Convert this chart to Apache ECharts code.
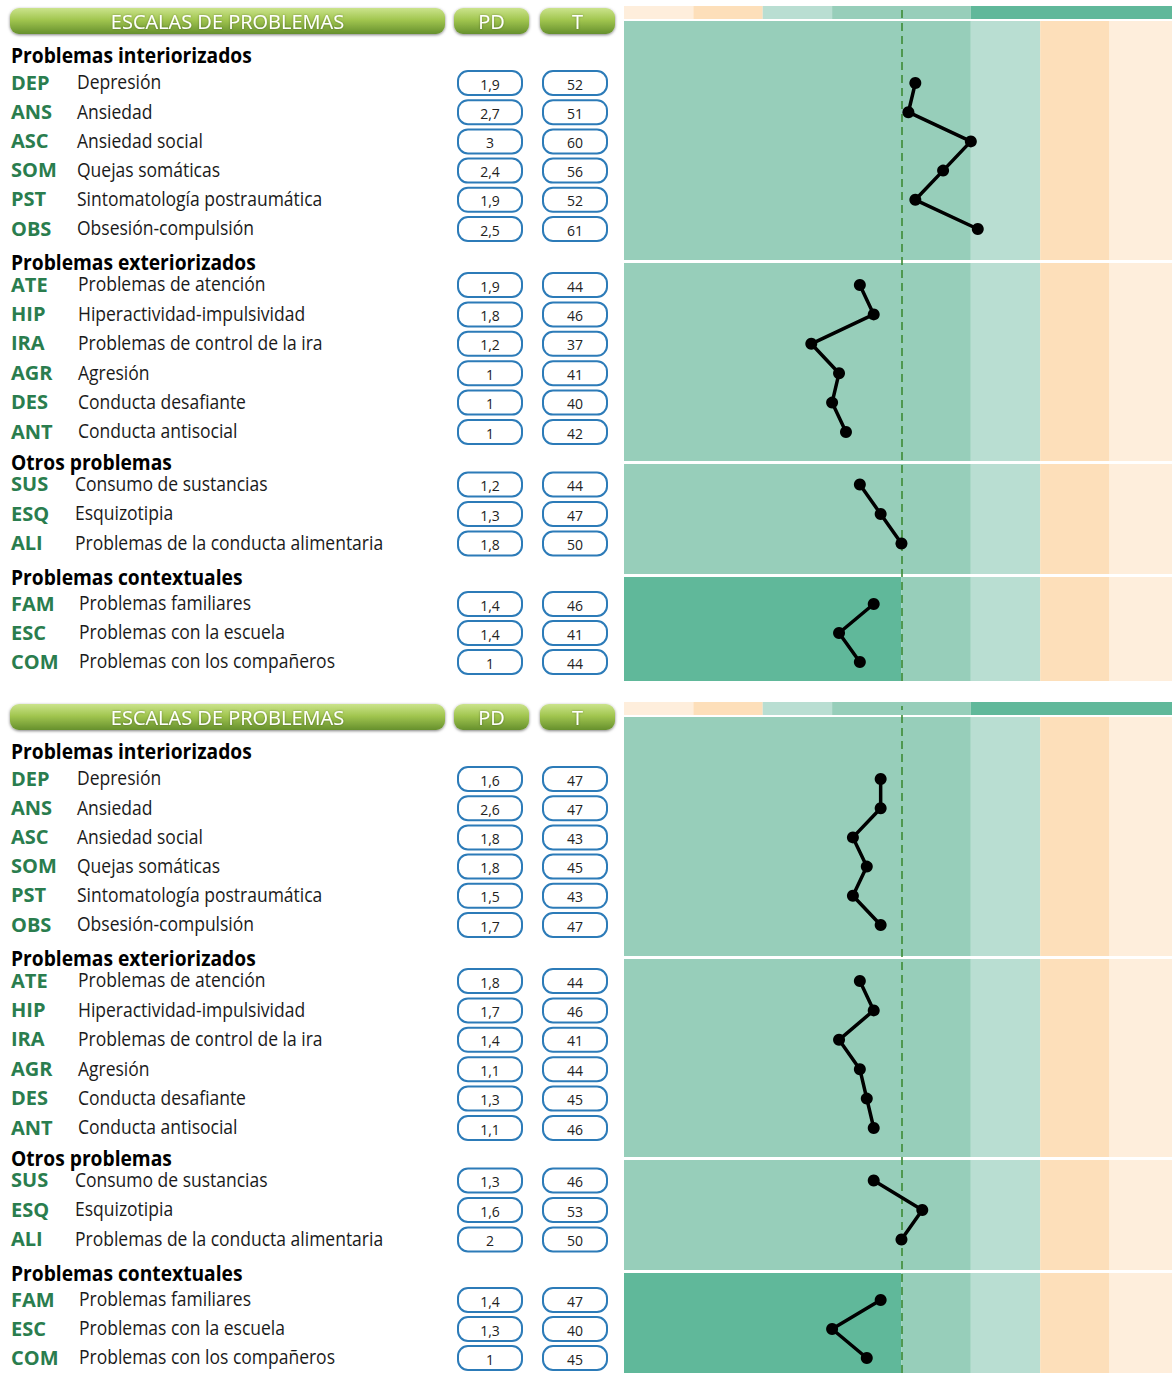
<!DOCTYPE html>
<html>
<head>
<meta charset="utf-8">
<script src="https://cdn.jsdelivr.net/npm/echarts@6/dist/echarts.min.js"></script>
<style>
  html, body { margin: 0; padding: 0; background: #fff; }
  #main { width: 1172px; height: 1373px; }
</style>
</head>
<body>
<div id="main"></div>
<script>
  // datos de las escalas
  var sectionNames = ['Problemas interiorizados', 'Problemas exteriorizados', 'Otros problemas', 'Problemas contextuales'];
  var codes = [
    ['DEP', 'ANS', 'ASC', 'SOM', 'PST', 'OBS'],
    ['ATE', 'HIP', 'IRA', 'AGR', 'DES', 'ANT'],
    ['SUS', 'ESQ', 'ALI'],
    ['FAM', 'ESC', 'COM']
  ];
  var names = [
    ['Depresión', 'Ansiedad', 'Ansiedad social', 'Quejas somáticas', 'Sintomatología postraumática', 'Obsesión-compulsión'],
    ['Problemas de atención', 'Hiperactividad-impulsividad', 'Problemas de control de la ira', 'Agresión', 'Conducta desafiante', 'Conducta antisocial'],
    ['Consumo de sustancias', 'Esquizotipia', 'Problemas de la conducta alimentaria'],
    ['Problemas familiares', 'Problemas con la escuela', 'Problemas con los compañeros']
  ];
  // perfil 1
  var pd1 = [[1.9, 2.7, 3, 2.4, 1.9, 2.5], [1.9, 1.8, 1.2, 1, 1, 1], [1.2, 1.3, 1.8], [1.4, 1.4, 1]];
  var t1 = [[52, 51, 60, 56, 52, 61], [44, 46, 37, 41, 40, 42], [44, 47, 50], [46, 41, 44]];
  // perfil 2
  var pd2 = [[1.6, 2.6, 1.8, 1.8, 1.5, 1.7], [1.8, 1.7, 1.4, 1.1, 1.3, 1.1], [1.3, 1.6, 2], [1.4, 1.3, 1]];
  var t2 = [[47, 47, 43, 45, 43, 47], [44, 46, 41, 44, 45, 46], [46, 53, 50], [47, 40, 45]];
  // cortes de T para las bandas
  var stripEdges = [10, 20, 30, 40, 60, 89];
  var mainEdges = [10, 60, 70, 80, 89];
  var ctxEdges = [10, 50, 60, 70, 80, 89];
  var meanT = 50;

  var stripColors = ['#FEEEDC', '#FDDFBA', '#B9DED2', '#97CEBA', '#60B89A'];
  var mainColors = ['#97CEBA', '#B9DED2', '#FDDFBA', '#FEEEDC'];
  var ctxColors = ['#60B89A', '#97CEBA', '#B9DED2', '#FDDFBA', '#FEEEDC'];

  var FONT = "'Open Sans', sans-serif";
  var panelOffsets = [0, 696];
  var secBg = [[21, 260], [263, 461], [464, 574], [577, 681]];
  var rowFirst = [83, 285, 484.5, 604];
  var rowStep = [29.2, 29.4, 29.5, 29];
  var headerY = [55, 262, 462, 577];
  var descX = [77, 78, 75, 79];

  var grids = [], xAxes = [], yAxes = [], series = [], graphics = [];

  function addGrid(top, height, yAxis) {
    var i = grids.length;
    grids.push({left: 624, right: 0, top: top, height: height});
    xAxes.push({type: 'value', gridIndex: i, min: 10, max: 89, show: false});
    yAxes.push(Object.assign({gridIndex: i, show: false}, yAxis));
    return i;
  }
  function bands(gi, edges, colors) {
    series.push({
      type: 'line', xAxisIndex: gi, yAxisIndex: gi, data: [], z: 1, silent: true,
      markArea: {
        silent: true,
        data: colors.map(function (c, k) {
          return [{xAxis: edges[k], itemStyle: {color: c}}, {xAxis: edges[k + 1]}];
        })
      }
    });
  }
  function fmt(v) { return String(v).replace('.', ','); }
  function text(x, y, s, st, el) {
    return Object.assign({
      type: 'text', x: x, y: y, z: 10,
      style: Object.assign({
        text: s, fontFamily: FONT, fontSize: 20, fill: '#1a1a1a',
        textAlign: 'left', textVerticalAlign: 'middle', align: 'left', verticalAlign: 'middle'
      }, st || {})
    }, el || {});
  }
  function box(cx, cy, s) {
    graphics.push({
      type: 'rect', z: 10,
      shape: {x: cx - 32, y: cy - 12, width: 64, height: 24, r: 10},
      style: {fill: '#fff', stroke: '#2C7BB8', lineWidth: 2}
    });
    graphics.push(text(cx, cy + 1, s, {fontSize: 14, fill: '#222', textAlign: 'center', align: 'center'}));
  }
  function pill(x, y, w, s) {
    graphics.push({
      type: 'rect', z: 10,
      shape: {x: x, y: y, width: w, height: 26, r: 9},
      style: {
        fill: new echarts.graphic.LinearGradient(0, 0, 0, 1, [
          {offset: 0, color: '#CBE38C'},
          {offset: 0.45, color: '#A2C650'},
          {offset: 1, color: '#66902C'}
        ]),
        shadowBlur: 3, shadowColor: 'rgba(0,0,0,0.5)', shadowOffsetY: 1
      }
    });
    graphics.push(text(x + w / 2, y + 13, s, {
      fontSize: 20, fill: '#fff', textAlign: 'center', align: 'center',
      textShadowColor: 'rgba(0,0,0,0.35)', textShadowBlur: 2
    }));
  }

  function panel(off, pd, t) {
    // franja superior
    var gs = addGrid(6 + off, 13, {type: 'value', min: 0, max: 1});
    bands(gs, stripEdges, stripColors);
    // fondo de cada bloque
    secBg.forEach(function (b, s) {
      var gb = addGrid(b[0] + off, b[1] - b[0], {type: 'value', min: 0, max: 1});
      if (s === 3) bands(gb, ctxEdges, ctxColors);
      else bands(gb, mainEdges, mainColors);
    });
    // linea de la media
    var gm = addGrid(10 + off, secBg[3][1] - 10, {type: 'value', min: 0, max: 1});
    series.push({
      type: 'line', xAxisIndex: gm, yAxisIndex: gm, data: [], z: 3, silent: true,
      markLine: {
        silent: true, symbol: ['none', 'none'], label: {show: false},
        lineStyle: {type: [8, 5], color: '#3E8B36', width: 1.6},
        data: [{xAxis: meanT}]
      }
    });
    // perfil
    codes.forEach(function (cs, s) {
      var top = off + rowFirst[s] - rowStep[s] / 2;
      var gp = addGrid(top, rowStep[s] * cs.length, {type: 'category', data: cs, inverse: true});
      series.push({
        type: 'line', xAxisIndex: gp, yAxisIndex: gp, z: 5, silent: true,
        data: cs.map(function (c, k) { return [t[s][k], c]; }),
        symbol: 'circle', symbolSize: 12,
        itemStyle: {color: '#000'},
        lineStyle: {color: '#000', width: 3.5}
      });
    });
    // tabla
    pill(10, 8 + off, 435, 'ESCALAS DE PROBLEMAS');
    pill(454, 8 + off, 75, 'PD');
    pill(540, 8 + off, 75, 'T');
    codes.forEach(function (cs, s) {
      graphics.push(text(11, headerY[s] + off, sectionNames[s], {fontSize: 21, fontWeight: 'bold', fill: '#000'}, {scaleX: 0.915}));
      cs.forEach(function (c, k) {
        var y = off + rowFirst[s] + k * rowStep[s];
        graphics.push(text(11, y - 1, c, {fontWeight: 'bold', fill: '#2A7D4E'}));
        graphics.push(text(descX[s], y - 1, names[s][k], {fill: '#1a1a1a'}, {scaleX: 0.875}));
        box(490, y, fmt(pd[s][k]));
        box(575, y, fmt(t[s][k]));
      });
    });
  }

  panel(panelOffsets[0], pd1, t1);
  panel(panelOffsets[1], pd2, t2);

  var myChart = echarts.init(document.getElementById('main'), null, {renderer: 'svg'});
  myChart.setOption({
    animation: false,
    grid: grids,
    xAxis: xAxes,
    yAxis: yAxes,
    series: series,
    graphic: graphics
  });
</script>
</body>
</html>
